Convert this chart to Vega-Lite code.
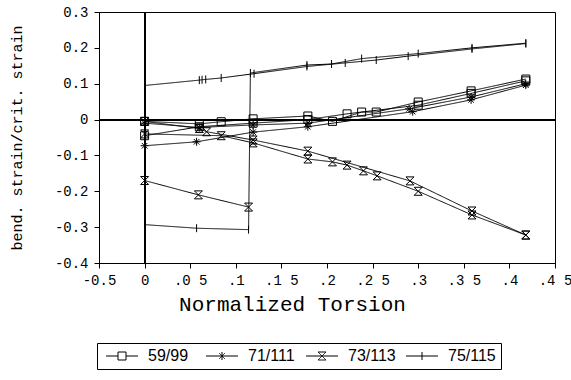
{
  "$schema": "https://vega.github.io/schema/vega-lite/v6.json",
  "width": 456,
  "height": 251,
  "autosize": {"type": "none"},
  "padding": {"left": 99, "top": 12, "right": 16, "bottom": 117},
  "background": "white",
  "config": {
    "view": {"stroke": "black", "strokeWidth": 1},
    "axis": {"domainColor": "black", "tickColor": "black", "labelColor": "black", "titleColor": "black", "grid": false, "labelFont": "Liberation Mono", "titleFont": "Liberation Mono", "titleFontWeight": "normal", "labelFontSize": 14, "tickSize": 5, "labelOverlap": false, "labelFlush": false}
  },
  "data": {"values": [
    {"series": "59/99", "run": "59a", "x": 0, "y": -0.005},
    {"series": "59/99", "run": "59a", "x": 0.06, "y": -0.012},
    {"series": "59/99", "run": "59a", "x": 0.084, "y": -0.006},
    {"series": "59/99", "run": "59a", "x": 0.119, "y": 0.002},
    {"series": "59/99", "run": "59a", "x": 0.179, "y": 0.01},
    {"series": "59/99", "run": "59a", "x": 0.206, "y": -0.005},
    {"series": "59/99", "run": "59a", "x": 0.238, "y": 0.021},
    {"series": "59/99", "run": "59a", "x": 0.254, "y": 0.021},
    {"series": "59/99", "run": "59a", "x": 0.3, "y": 0.049},
    {"series": "59/99", "run": "59a", "x": 0.358, "y": 0.08},
    {"series": "59/99", "run": "59a", "x": 0.418, "y": 0.113},
    {"series": "59/99", "run": "59b", "x": 0, "y": -0.045},
    {"series": "59/99", "run": "59b", "x": 0.06, "y": -0.02},
    {"series": "59/99", "run": "59b", "x": 0.119, "y": -0.01},
    {"series": "59/99", "run": "59b", "x": 0.179, "y": 0.0},
    {"series": "59/99", "run": "59b", "x": 0.222, "y": 0.016},
    {"series": "59/99", "run": "59b", "x": 0.3, "y": 0.04},
    {"series": "59/99", "run": "59b", "x": 0.358, "y": 0.073},
    {"series": "59/99", "run": "59b", "x": 0.418, "y": 0.108},
    {"series": "71/111", "run": "71a", "x": 0, "y": -0.073},
    {"series": "71/111", "run": "71a", "x": 0.057, "y": -0.062},
    {"series": "71/111", "run": "71a", "x": 0.119, "y": -0.035},
    {"series": "71/111", "run": "71a", "x": 0.179, "y": -0.02},
    {"series": "71/111", "run": "71a", "x": 0.294, "y": 0.022},
    {"series": "71/111", "run": "71a", "x": 0.358, "y": 0.055},
    {"series": "71/111", "run": "71a", "x": 0.418, "y": 0.096},
    {"series": "71/111", "run": "71b", "x": 0, "y": -0.01},
    {"series": "71/111", "run": "71b", "x": 0.06, "y": -0.022},
    {"series": "71/111", "run": "71b", "x": 0.119, "y": -0.015},
    {"series": "71/111", "run": "71b", "x": 0.179, "y": -0.01},
    {"series": "71/111", "run": "71b", "x": 0.29, "y": 0.03},
    {"series": "71/111", "run": "71b", "x": 0.358, "y": 0.063},
    {"series": "71/111", "run": "71b", "x": 0.418, "y": 0.1},
    {"series": "73/113", "run": "73a", "x": 0, "y": -0.005},
    {"series": "73/113", "run": "73a", "x": 0.06, "y": -0.025},
    {"series": "73/113", "run": "73a", "x": 0.068, "y": -0.034},
    {"series": "73/113", "run": "73a", "x": 0.119, "y": -0.057},
    {"series": "73/113", "run": "73a", "x": 0.179, "y": -0.088},
    {"series": "73/113", "run": "73a", "x": 0.291, "y": -0.171},
    {"series": "73/113", "run": "73a", "x": 0.359, "y": -0.255},
    {"series": "73/113", "run": "73a", "x": 0.418, "y": -0.322},
    {"series": "73/113", "run": "73b", "x": 0, "y": -0.04},
    {"series": "73/113", "run": "73b", "x": 0.084, "y": -0.045},
    {"series": "73/113", "run": "73b", "x": 0.119, "y": -0.065},
    {"series": "73/113", "run": "73b", "x": 0.179, "y": -0.11},
    {"series": "73/113", "run": "73b", "x": 0.206, "y": -0.118},
    {"series": "73/113", "run": "73b", "x": 0.222, "y": -0.127},
    {"series": "73/113", "run": "73b", "x": 0.24, "y": -0.143},
    {"series": "73/113", "run": "73b", "x": 0.255, "y": -0.157},
    {"series": "73/113", "run": "73b", "x": 0.3, "y": -0.2},
    {"series": "73/113", "run": "73b", "x": 0.359, "y": -0.266},
    {"series": "73/113", "run": "73b", "x": 0.418, "y": -0.322},
    {"series": "73/113", "run": "73c", "x": 0, "y": -0.17},
    {"series": "73/113", "run": "73c", "x": 0.059, "y": -0.21},
    {"series": "73/113", "run": "73c", "x": 0.114, "y": -0.244},
    {"series": "75/115", "run": "75a", "x": 0, "y": 0.095},
    {"series": "75/115", "run": "75a", "x": 0.06, "y": 0.11},
    {"series": "75/115", "run": "75a", "x": 0.063, "y": 0.111},
    {"series": "75/115", "run": "75a", "x": 0.067, "y": 0.112},
    {"series": "75/115", "run": "75a", "x": 0.084, "y": 0.116},
    {"series": "75/115", "run": "75a", "x": 0.12, "y": 0.128},
    {"series": "75/115", "run": "75a", "x": 0.178, "y": 0.148},
    {"series": "75/115", "run": "75a", "x": 0.22, "y": 0.158},
    {"series": "75/115", "run": "75a", "x": 0.254, "y": 0.166},
    {"series": "75/115", "run": "75a", "x": 0.289, "y": 0.177},
    {"series": "75/115", "run": "75a", "x": 0.359, "y": 0.197},
    {"series": "75/115", "run": "75a", "x": 0.418, "y": 0.212},
    {"series": "75/115", "run": "75b", "x": 0, "y": -0.293},
    {"series": "75/115", "run": "75b", "x": 0.057, "y": -0.303},
    {"series": "75/115", "run": "75b", "x": 0.114, "y": -0.307},
    {"series": "75/115", "run": "75b", "x": 0.116, "y": 0.13},
    {"series": "75/115", "run": "75b", "x": 0.178, "y": 0.152},
    {"series": "75/115", "run": "75b", "x": 0.205, "y": 0.155},
    {"series": "75/115", "run": "75b", "x": 0.238, "y": 0.17},
    {"series": "75/115", "run": "75b", "x": 0.3, "y": 0.184},
    {"series": "75/115", "run": "75b", "x": 0.359, "y": 0.2},
    {"series": "75/115", "run": "75b", "x": 0.418, "y": 0.213}
  ]},
  "layer": [
    {
      "mark": {"type": "line", "color": "black", "strokeWidth": 1},
      "encoding": {
        "x": {"field": "x", "type": "quantitative",
          "scale": {"domain": [-0.05, 0.45], "nice": false, "zero": false},
          "axis": {"values": [-0.05, 0, 0.05, 0.1, 0.15, 0.2, 0.25, 0.3, 0.35, 0.4, 0.45],
            "labelExpr": "['-0.5','0','.0 5','.1','.1 5','.2','.2 5','.3','.3 5','.4','.4 5'][round((datum.value+0.05)*20)]",
            "labelPadding": 5, "title": "Normalized Torsion", "titleFontSize": 21, "titlePadding": 6, "titleX": 193}},
        "y": {"field": "y", "type": "quantitative",
          "scale": {"domain": [-0.4, 0.3], "nice": false, "zero": false},
          "axis": {"values": [-0.4, -0.3, -0.2, -0.1, 0, 0.1, 0.2, 0.3], "tickCount": 8,
            "labelExpr": "datum.value == 0 ? '0' : (datum.value < 0 ? '-' + format(-datum.value, '.1f') : format(datum.value, '.1f'))",
            "labelPadding": 6, "title": "bend. strain/crit. strain", "titleFontSize": 15, "titlePadding": 30}},
        "detail": {"field": "run"},
        "strokeDash": {"field": "series", "type": "nominal",
          "scale": {"domain": ["59/99", "71/111", "73/113", "75/115"], "range": [[1, 0], [1, 0], [1, 0], [1, 0]]},
          "legend": {"title": null, "orient": "none", "legendX": -2, "legendY": 331, "direction": "horizontal", "columns": 4, "gridAlign": "all",
            "strokeColor": "black", "padding": 5, "labelFont": "Liberation Sans", "labelFontSize": 16, "labelColor": "black",
            "labelOffset": 30, "columnPadding": 6, "symbolSize": 64, "symbolStrokeColor": "black", "symbolFillColor": "transparent", "symbolStrokeWidth": 1,
            "encode": {"symbols": {"update": {"shape": {"signal": "datum.value === '59/99' ? 'M-1,0H2M4,0H7M2,-1H4V1H2Z' : datum.value === '71/111' ? 'M-1,0H7M3,-1V1M2.3,-0.7L3.7,0.7M2.3,0.7L3.7,-0.7' : datum.value === '73/113' ? 'M-1,0H7M2,-1H4L2,1H4Z' : 'M-1,0H7M3,-1V1'"}}}}}
        }
      }
    },
    {
      "mark": {"type": "point", "filled": false, "color": "black", "strokeWidth": 1, "size": 64, "opacity": 1},
      "encoding": {
        "x": {"field": "x", "type": "quantitative"},
        "y": {"field": "y", "type": "quantitative",
          "axis": {"values": [-0.4, -0.3, -0.2, -0.1, 0, 0.1, 0.2, 0.3], "tickCount": 8,
            "labelExpr": "datum.value == 0 ? '0' : (datum.value < 0 ? '-' + format(-datum.value, '.1f') : format(datum.value, '.1f'))",
            "labelPadding": 6, "title": "bend. strain/crit. strain", "titleFontSize": 15, "titlePadding": 30}},
        "shape": {"field": "series", "type": "nominal", "legend": null,
          "scale": {"range": ["M-1,-1H1V1H-1Z", "M-1,0H1M0,-1V1M-0.7,-0.7L0.7,0.7M-0.7,0.7L0.7,-0.7", "M-1,-1H1L-1,1H1Z", "M0,-1V1"]}}
      }
    },
    {
      "mark": {"type": "rule", "color": "black", "strokeWidth": 1},
      "encoding": {"x": {"datum": 0, "type": "quantitative"}}
    },
    {
      "mark": {"type": "rule", "color": "black", "strokeWidth": 1},
      "encoding": {"y": {"datum": 0, "type": "quantitative"}}
    }
  ]
}
